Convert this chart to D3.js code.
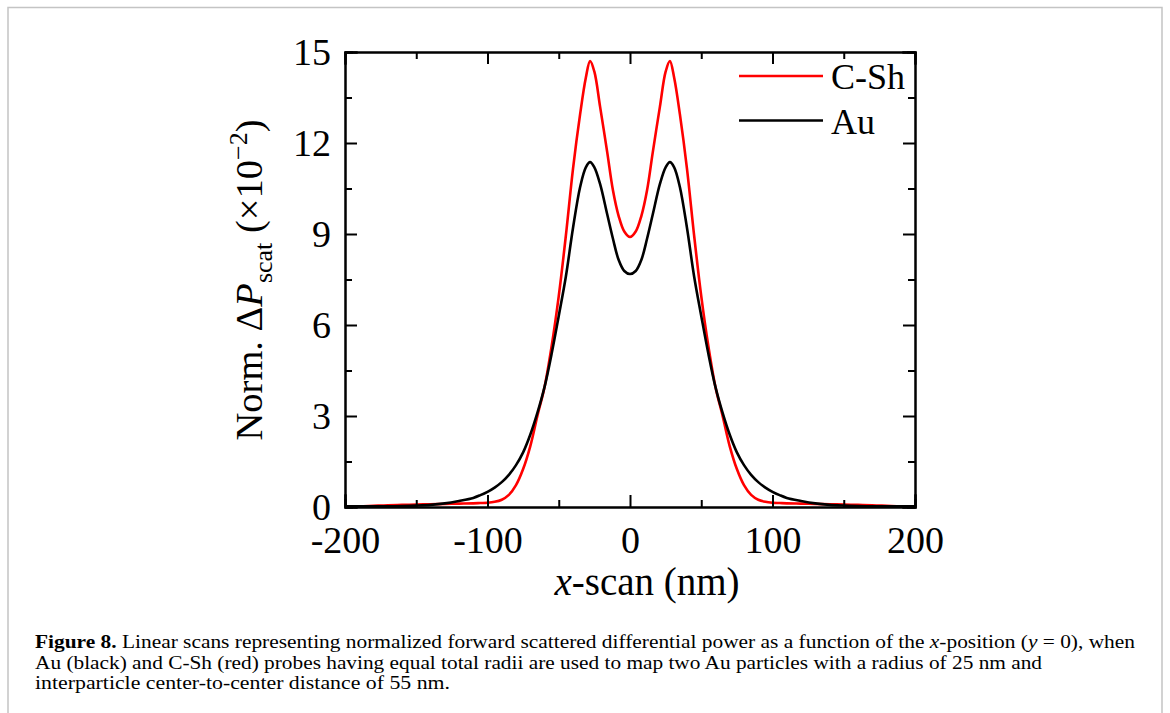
<!DOCTYPE html>
<html>
<head>
<meta charset="utf-8">
<script src="https://cdn.jsdelivr.net/npm/d3@7"></script>
<style>
  html, body { margin: 0; padding: 0; background: #fff; }
  svg { display: block; }
  text { font-family: "Liberation Serif", "Times New Roman", serif; fill: #000; }
</style>
</head>
<body>
<svg id="chart" width="1170" height="713"></svg>
<script>
// ---- data ----
const xScan = [-200,-190,-180,-170,-160,-150,-140,-130,-120,-110,-105,-100,-95,-90,-85,-80,-75,-70,-65,-60,-55,-50,-45,-40,-35,-31,-28,-25,-21,-16,-12,-8,-4,0,4,8,12,16,21,25,28,31,35,40,45,50,55,60,65,70,75,80,85,90,95,100,105,110,120,130,140,150,160,170,180,190,200];
const auValues = [0.02,0.02,0.02,0.02,0.03,0.045,0.07,0.12,0.20,0.30,0.39,0.50,0.64,0.82,1.06,1.38,1.80,2.38,3.10,3.95,5.05,6.30,7.60,9.20,10.55,11.20,11.37,11.20,10.65,9.65,8.85,8.15,7.78,7.68,7.78,8.15,8.85,9.65,10.65,11.20,11.37,11.20,10.55,9.20,7.60,6.30,5.05,3.95,3.10,2.38,1.80,1.38,1.06,0.82,0.64,0.50,0.39,0.30,0.20,0.12,0.07,0.045,0.03,0.02,0.02,0.02,0.02];
const cshValues = [0.02,0.02,0.04,0.06,0.07,0.08,0.09,0.10,0.11,0.12,0.13,0.14,0.17,0.24,0.40,0.72,1.25,2.00,3.00,3.95,5.30,6.95,8.95,11.15,12.95,14.15,14.70,14.35,13.20,11.70,10.45,9.60,9.08,8.90,9.08,9.60,10.45,11.70,13.20,14.35,14.70,14.15,12.95,11.15,8.95,6.95,5.30,3.95,3.00,2.00,1.25,0.72,0.40,0.24,0.17,0.14,0.13,0.12,0.11,0.10,0.09,0.08,0.07,0.06,0.04,0.02,0.02];
const seriesNames = ["C-Sh", "Au"];
const seriesColors = ["#ff0000", "#000000"];
const xTicks = [-200,-100,0,100,200];
const xMinorTicks = [-150,-50,50,150];
const yTicks = [0,3,6,9,12,15];
const yMinorTicks = [1.5,4.5,7.5,10.5,13.5];
const captionLines = [
  [{t:"Figure 8.", w:"bold"},{t:" Linear scans representing normalized forward scattered differential power as a function of the "},{t:"x",i:true},{t:"-position ("},{t:"y",i:true},{t:" = 0), when"}],
  [{t:"Au (black) and C-Sh (red) probes having equal total radii are used to map two Au particles with a radius of 25 nm and"}],
  [{t:"interparticle center-to-center distance of 55 nm."}]
];
const captionWidths = [1100, 1007, 415];

// ---- layout ----
const svg = d3.select("#chart");
const L = 345, R = 915, T = 52, B = 507;
const x = d3.scaleLinear().domain([-200,200]).range([L,R]);
const y = d3.scaleLinear().domain([0,15]).range([B,T]);

// figure border
svg.append("path")
  .attr("d", "M8,713 L8,7.5 L1162,7.5 L1162,713")
  .attr("fill","none").attr("stroke","#c4c4c4").attr("stroke-width",1.5);

const plot = svg.append("g");

// curves
const line = d3.line().x(d=>x(d[0])).y(d=>y(d[1])).curve(d3.curveCatmullRom.alpha(0.5));
const redData = xScan.map((v,i)=>[v,cshValues[i]]);
const blackData = xScan.map((v,i)=>[v,auValues[i]]);
plot.append("path").datum(redData).attr("d",line).attr("fill","none")
  .attr("stroke",seriesColors[0]).attr("stroke-width",2.6).attr("stroke-linejoin","round");
plot.append("path").datum(blackData).attr("d",line).attr("fill","none")
  .attr("stroke",seriesColors[1]).attr("stroke-width",2.6).attr("stroke-linejoin","round");

// axes (ticks inward)
const major = 12, minor = 7;
const axB = d3.axisBottom(x).tickValues(xTicks).tickSize(-major).tickFormat(d=>d);
const axT = d3.axisTop(x).tickValues(xTicks).tickSize(-major).tickFormat("");
const axL = d3.axisLeft(y).tickValues(yTicks).tickSize(-major).tickFormat(d=>d);
const axR = d3.axisRight(y).tickValues(yTicks).tickSize(-major).tickFormat("");
const axBm = d3.axisBottom(x).tickValues(xMinorTicks).tickSize(-minor).tickFormat("");
const axTm = d3.axisTop(x).tickValues(xMinorTicks).tickSize(-minor).tickFormat("");
const axLm = d3.axisLeft(y).tickValues(yMinorTicks).tickSize(-minor).tickFormat("");
const axRm = d3.axisRight(y).tickValues(yMinorTicks).tickSize(-minor).tickFormat("");

function style(g){
  g.select(".domain").attr("stroke","#000").attr("stroke-width",2);
  g.selectAll(".tick line").attr("stroke","#000").attr("stroke-width",2);
}
const gB = svg.append("g").attr("transform",`translate(0,${B})`).call(axB).call(style);
gB.selectAll(".tick text").attr("font-size",38).attr("font-family","Liberation Serif").attr("dy",0).attr("y",45.5);
svg.append("g").attr("transform",`translate(0,${B})`).call(axBm).call(style);
svg.append("g").attr("transform",`translate(0,${T})`).call(axT).call(style);
svg.append("g").attr("transform",`translate(0,${T})`).call(axTm).call(style);
const gL = svg.append("g").attr("transform",`translate(${L},0)`).call(axL).call(style);
gL.selectAll(".tick text").attr("font-size",38).attr("font-family","Liberation Serif").attr("x",-14).attr("dy","0.34em");
svg.append("g").attr("transform",`translate(${L},0)`).call(axLm).call(style);
svg.append("g").attr("transform",`translate(${R},0)`).call(axR).call(style);
svg.append("g").attr("transform",`translate(${R},0)`).call(axRm).call(style);
svg.selectAll(".domain").attr("stroke-linecap","square");

// x title
const xt = svg.append("text").attr("x",647).attr("y",594.5).attr("text-anchor","middle").attr("font-size",39);
xt.append("tspan").attr("font-style","italic").text("x");
xt.append("tspan").text("-scan (nm)");

// y title
const yt = svg.append("text").attr("transform","translate(262,280) rotate(-90)").attr("text-anchor","middle").attr("font-size",38.5);
yt.append("tspan").text("Norm. Δ");
yt.append("tspan").attr("font-style","italic").text("P");
yt.append("tspan").attr("font-size",26).attr("dy",10).text("scat");
yt.append("tspan").attr("dy",-10).text(" (×10");
yt.append("tspan").attr("font-size",26).attr("dy",-15).text("−2");
yt.append("tspan").attr("dy",15).text(")");

// legend
seriesNames.forEach((n,i)=>{
  const ly = 76 + i*44.5;
  svg.append("line").attr("x1",739).attr("x2",823).attr("y1",ly).attr("y2",ly)
    .attr("stroke",seriesColors[i]).attr("stroke-width",2.6);
  svg.append("text").attr("x",831).attr("y",ly+13).attr("font-size",36).text(n);
});

// caption
captionLines.forEach((segs,k)=>{
  const t = svg.append("text").attr("x",35).attr("y",648 + k*20.5).attr("font-size",19.5)
    .attr("font-family","Liberation Serif")
    .attr("textLength",captionWidths[k]).attr("lengthAdjust","spacingAndGlyphs");
  segs.forEach(s=>{
    const ts = t.append("tspan").text(s.t);
    if (s.w) ts.attr("font-weight",s.w);
    if (s.i) ts.attr("font-style","italic");
  });
});
</script>
</body>
</html>
